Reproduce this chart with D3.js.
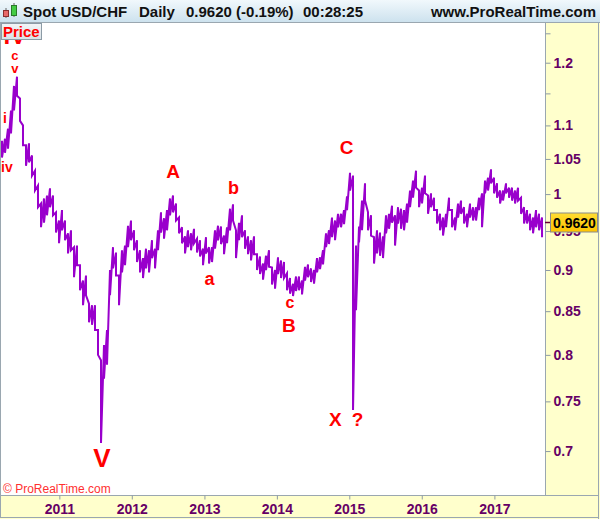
<!DOCTYPE html>
<html><head><meta charset="utf-8">
<script src="https://cdn.jsdelivr.net/npm/d3@7"></script>
<style>
body{margin:0;background:#fff}
svg{display:block;font-family:"Liberation Sans",Arial,sans-serif}
</style>
</head><body><svg id="c" width="600" height="519"></svg>
<script>
// ---------- data ----------
const firstDate = "2010-03-18";
const stepDays = 15.117; // spacing of the sampled daily ranges
const high = [1.077,1.080,1.095,1.123,1.162,1.177,1.142,1.100,1.070,1.073,
1.055,1.033,1.012,0.987,0.994,0.998,1.008,0.998,0.975,0.964,
0.978,0.964,0.947,0.951,0.929,0.931,0.906,0.887,0.893,0.859,
0.857,0.857,0.828,0.794,0.811,0.828,0.900,0.929,0.922,0.893,
0.925,0.931,0.957,0.964,0.951,0.938,0.925,0.915,0.927,0.925,
0.938,0.927,0.951,0.975,0.967,0.978,0.994,0.998,0.987,0.968,
0.955,0.943,0.951,0.947,0.953,0.940,0.938,0.927,0.942,0.929,
0.929,0.951,0.957,0.956,0.944,0.955,0.980,0.986,0.951,0.961,
0.971,0.951,0.943,0.938,0.943,0.920,0.917,0.908,0.918,0.925,
0.903,0.900,0.916,0.912,0.910,0.896,0.890,0.883,0.892,0.892,
0.887,0.904,0.907,0.902,0.900,0.915,0.916,0.925,0.947,0.951,
0.968,0.964,0.973,0.973,0.978,0.997,1.030,1.026,0.931,0.956,
0.991,1.015,0.975,0.971,0.942,0.951,0.948,0.943,0.971,0.973,
0.984,0.971,0.982,0.980,0.978,0.987,1.005,1.019,1.033,1.005,
1.009,1.026,0.998,1.001,0.995,0.978,0.973,0.968,0.973,0.995,
0.978,0.968,0.987,0.991,0.982,0.973,0.987,0.982,0.982,0.995,
1.001,1.019,1.023,1.035,1.023,1.015,1.005,1.005,1.015,1.009,
1.009,1.005,1.009,0.995,0.982,0.978,0.973,0.968,0.978,0.973,
0.968];
const low = [1.052,1.059,1.065,1.088,1.123,1.146,1.107,1.070,1.040,1.045,
1.026,1.005,0.982,0.955,0.961,0.971,0.982,0.971,0.948,0.934,
0.951,0.938,0.921,0.925,0.891,0.906,0.875,0.857,0.869,0.837,
0.834,0.828,0.800,0.708,0.774,0.789,0.869,0.902,0.893,0.857,
0.897,0.906,0.929,0.938,0.925,0.910,0.897,0.890,0.902,0.897,
0.915,0.902,0.925,0.948,0.940,0.951,0.971,0.975,0.964,0.947,
0.934,0.921,0.929,0.925,0.934,0.922,0.917,0.906,0.921,0.908,
0.910,0.927,0.938,0.933,0.920,0.934,0.951,0.964,0.915,0.938,
0.942,0.927,0.920,0.912,0.920,0.900,0.895,0.888,0.900,0.904,
0.882,0.877,0.895,0.890,0.890,0.875,0.871,0.868,0.874,0.875,
0.870,0.887,0.891,0.885,0.883,0.897,0.901,0.907,0.929,0.933,
0.942,0.938,0.955,0.955,0.959,0.978,1.005,0.741,0.851,0.935,
0.951,0.991,0.951,0.944,0.908,0.921,0.918,0.915,0.947,0.953,
0.961,0.931,0.960,0.953,0.951,0.961,0.982,0.995,1.009,0.982,
0.987,1.001,0.973,0.982,0.978,0.960,0.951,0.944,0.955,0.978,
0.955,0.951,0.968,0.973,0.960,0.955,0.968,0.964,0.964,0.978,
0.955,1.001,1.005,1.015,1.001,0.995,0.987,0.991,1.001,0.995,
0.991,0.987,0.991,0.973,0.960,0.960,0.951,0.947,0.955,0.951,
0.942];
const yearTicks = ["2011","2012","2013","2014","2015","2016","2017"];
const priceTicks = [0.7,0.75,0.8,0.85,0.9,0.95,1,1.05,1.1,1.15,1.2,1.25];
const priceLabels = ["0.7","0.75","0.8","0.85","0.9","0.95","1","1.05","1.1","","1.2",""];
const lastPrice = 0.962;
const lastPriceText = "0.9620";
const timeDomain = ["2010-03-13","2017-09-13"];
const priceDomain = [0.6586,1.268];
const annoText  = ["IV","c","v","i","iv","A","b","a","c","B","C","X","?","V"];
const annoDate  = ["2010-05-22","2010-05-22","2010-05-22","2010-04-02","2010-04-12","2012-07-27","2013-05-27","2013-01-26","2014-03-08","2014-03-03","2014-12-18","2014-10-23","2015-02-11","2011-08-04"];
const annoPrice = [1.232,1.204,1.1835,1.104,1.031,1.022,1.0008,0.881,0.8533,0.8254,1.0578,0.7248,0.725,0.6846];
const annoSize  = [24,13,13,14,14,19,18,18,16,19,19,19,19,26];

// ---------- layout ----------
const W = 600, H = 519;
const P = {l:1, r:545, t:23, b:495};
const parse = d3.utcParse("%Y-%m-%d");
const svg = d3.select("#c");

const x = d3.scaleUtc().domain(timeDomain.map(parse)).range([P.l, P.r]);
const y = d3.scaleLog().domain(priceDomain).range([P.b, P.t]);

const defs = svg.append("defs");
const hg = defs.append("linearGradient").attr("id","hg").attr("x1",0).attr("y1",0).attr("x2",0).attr("y2",1);
hg.append("stop").attr("offset","0").attr("stop-color","#f1f8fc");
hg.append("stop").attr("offset","1").attr("stop-color","#cde2ee");
const pg = defs.append("linearGradient").attr("id","pg").attr("x1",0).attr("y1",0).attr("x2",0).attr("y2",1);
pg.append("stop").attr("offset","0").attr("stop-color","#f2f5f7");
pg.append("stop").attr("offset","1").attr("stop-color","#d9e1e6");
const gg = defs.append("linearGradient").attr("id","gg").attr("x1",0).attr("y1",0).attr("x2",0).attr("y2",1);
gg.append("stop").attr("offset","0").attr("stop-color","#ffdd33");
gg.append("stop").attr("offset","1").attr("stop-color","#ffc400");
defs.append("clipPath").attr("id","clip").append("rect")
  .attr("x",P.l).attr("y",P.t).attr("width",P.r-P.l).attr("height",P.b-P.t);

// axis backgrounds
svg.append("rect").attr("x",P.r).attr("y",P.t).attr("width",W-P.r).attr("height",H-P.t).attr("fill","#ffffcc");
svg.append("rect").attr("x",0).attr("y",P.b).attr("width",W).attr("height",H-P.b).attr("fill","#ffffcc");
svg.append("rect").attr("x",0.5).attr("y",P.b+0.5).attr("width",W-2).attr("height",H-P.b-2)
  .attr("fill","none").attr("stroke","#9aa7b0");
svg.append("line").attr("x1",W-1.5).attr("x2",W-1.5).attr("y1",P.t).attr("y2",H).attr("stroke","#9aa7b0");

// annotations (drawn first so the Price box / header cover overflow)
const annoG = svg.append("g").attr("fill","#ff0000").attr("font-weight","bold").attr("text-anchor","middle");
annoText.forEach((t,i)=>{
  annoG.append("text").attr("x",x(parse(annoDate[i]))).attr("y",y(annoPrice[i]))
    .attr("font-size",annoSize[i]).text(t);
});

// price series as daily high-low ranges
const pts = [];
high.forEach((h,i)=>{
  const d = new Date(parse(firstDate).getTime() + i*stepDays*864e5);
  pts.push([d,h]); pts.push([d,low[i]]);
});
svg.append("path").attr("clip-path","url(#clip)")
  .attr("d", d3.line().x(d=>x(d[0])).y(d=>y(d[1]))(pts))
  .attr("fill","none").attr("stroke","#9900cc").attr("stroke-width",2).attr("stroke-linejoin","miter");

// frame
svg.append("line").attr("x1",0.5).attr("x2",0.5).attr("y1",P.t).attr("y2",P.b).attr("stroke","#9aa7b0");
svg.append("line").attr("x1",P.r+0.5).attr("x2",P.r+0.5).attr("y1",P.t).attr("y2",P.b+0.5).attr("stroke","#9aa7b0");
svg.append("line").attr("x1",0).attr("x2",P.r+0.5).attr("y1",P.b+0.5).attr("y2",P.b+0.5).attr("stroke","#9aa7b0");

// right axis
const yAxis = d3.axisRight(y).tickValues(priceTicks).tickSize(5).tickPadding(3)
  .tickFormat((d,i)=>priceLabels[i]);
const gy = svg.append("g").attr("transform",`translate(${P.r+0.5},0)`).call(yAxis);
gy.select(".domain").remove();
gy.selectAll(".tick line").attr("stroke","#8d9aa5");
gy.selectAll(".tick text").attr("fill","#660066").attr("font-size",14).attr("font-weight","bold")
  .attr("font-family","Liberation Sans, Arial, sans-serif");

// bottom axis
const yearDates = yearTicks.map(t=>parse(t+"-01-01"));
const xAxis = d3.axisBottom(x).tickValues(yearDates).tickSize(4).tickPadding(5)
  .tickFormat((d,i)=>yearTicks[i]);
const gx = svg.append("g").attr("transform",`translate(0,${P.b+0.5})`).call(xAxis);
gx.select(".domain").remove();
gx.selectAll(".tick line").attr("stroke","#8d9aa5");
gx.selectAll(".tick text").attr("fill","#660066").attr("font-size",14).attr("font-weight","bold")
  .attr("font-family","Liberation Sans, Arial, sans-serif");

// last price marker
const ly = Math.round(y(lastPrice))+0.5;
svg.append("line").attr("x1",P.r).attr("x2",P.r+6).attr("y1",ly).attr("y2",ly).attr("stroke","#660033").attr("stroke-width",1.5);
svg.append("rect").attr("x",550.5).attr("y",ly-9.5).attr("width",47).attr("height",19)
  .attr("fill","url(#gg)").attr("stroke","#8a8a8a");
svg.append("text").attr("x",553).attr("y",ly+5).attr("font-size",14).attr("font-weight","bold")
  .attr("fill","#000").text(lastPriceText);

// copyright
svg.append("text").attr("x",3).attr("y",492.5).attr("font-size",12).attr("fill","#ff3030")
  .text("\u00A9 ProRealTime.com");

// header
svg.append("rect").attr("x",0).attr("y",0).attr("width",W).attr("height",22).attr("fill","url(#hg)");
svg.append("line").attr("x1",0).attr("x2",W).attr("y1",22.5).attr("y2",22.5).attr("stroke","#9aa7b0");
// candle icon
svg.append("line").attr("x1",6).attr("x2",6).attr("y1",8).attr("y2",18).attr("stroke","#666");
svg.append("rect").attr("x",3.5).attr("y",10.5).attr("width",5).attr("height",6).attr("fill","#e86a6a").attr("stroke","#8a3030");
svg.append("line").attr("x1",14).attr("x2",14).attr("y1",3).attr("y2",17).attr("stroke","#666");
svg.append("rect").attr("x",11.5).attr("y",5.5).attr("width",5).attr("height",10).attr("fill","#44cc44").attr("stroke","#2a7a2a");
const ht = svg.append("g").attr("font-size",15).attr("font-weight","bold").attr("fill","#111");
ht.append("text").attr("x",23).attr("y",17).text("Spot USD/CHF");
ht.append("text").attr("x",139).attr("y",17).text("Daily");
ht.append("text").attr("x",186).attr("y",17).text("0.9620 (-0.19%)");
ht.append("text").attr("x",303).attr("y",17).text("00:28:25");
ht.append("text").attr("x",596).attr("y",17).attr("text-anchor","end").text("www.ProRealTime.com");

// Price box
svg.append("rect").attr("x",1.5).attr("y",23.5).attr("width",40).attr("height",16)
  .attr("fill","url(#pg)").attr("stroke","#8c9ba6");
svg.append("text").attr("x",3).attr("y",37).attr("font-size",15).attr("font-weight","bold")
  .attr("fill","#ff0000").text("Price");
</script>
</body></html>
